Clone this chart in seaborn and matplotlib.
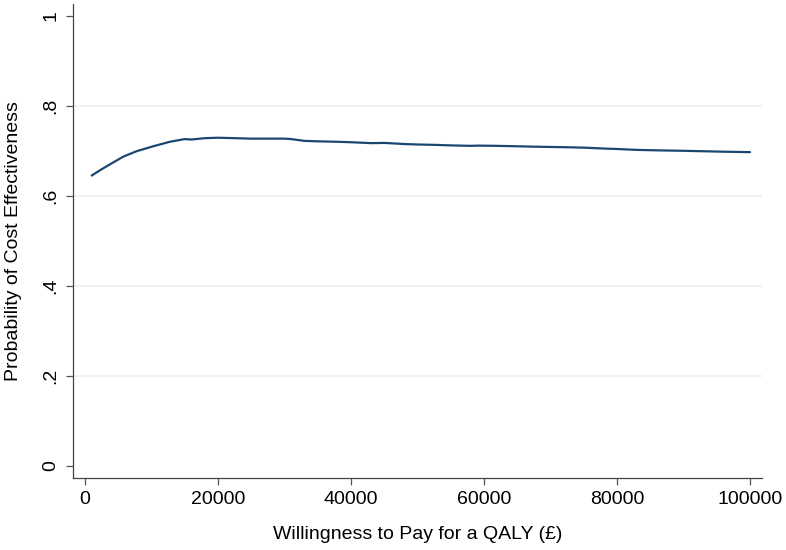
import numpy as np
import pandas as pd
import matplotlib
matplotlib.use('Agg')
import matplotlib.pyplot as plt
import seaborn as sns

# acceptability curve
wtp = [1000, 2500, 4000, 5750, 7750, 10250, 12750, 15000, 16000, 18000,
       20000, 22500, 25000, 27500, 30000, 31000, 33000, 35000, 38000, 40000,
       43000, 45000, 48000, 50000, 53000, 55000, 58000, 59000, 62000, 65000,
       68000, 72000, 75000, 78000, 80000, 83000, 86000, 88000, 90000, 93000,
       96000, 100000]
prob = [0.645, 0.659, 0.672, 0.687, 0.699, 0.710, 0.720, 0.726, 0.725, 0.728,
        0.729, 0.728, 0.727, 0.727, 0.727, 0.726, 0.722, 0.721, 0.720, 0.719,
        0.717, 0.7175, 0.715, 0.714, 0.713, 0.712, 0.711, 0.7115, 0.711, 0.710,
        0.709, 0.708, 0.707, 0.705, 0.704, 0.702, 0.701, 0.7005, 0.700, 0.699,
        0.698, 0.697]

x_ticks = [0, 20000, 40000, 60000, 80000, 100000]
y_ticks = [0, 0.2, 0.4, 0.6, 0.8, 1.0]
y_tick_labels = ['0', '.2', '.4', '.6', '.8', '1']

sns.set_style('white')
plt.rcParams['font.family'] = ['Liberation Sans', 'DejaVu Sans']

df = pd.DataFrame({'wtp': wtp, 'prob': prob})

fig = plt.figure(figsize=(7.86, 5.50), dpi=100, facecolor='white')
ax = fig.add_axes([72.7 / 786, 1 - 477.7 / 550, (762 - 72.7) / 786, (477.7 - 4) / 550])

# light horizontal grid, only inside the range
for y in y_ticks[1:-1]:
    ax.axhline(y, color='#eaf2f3', lw=1.3, zorder=0)

sns.lineplot(data=df, x='wtp', y='prob', ax=ax, color='#1a476f', lw=1.6)

ax.set_xlim(-1850, 101800)
ax.set_ylim(-0.026, 1.026)
ax.set_xticks(x_ticks)
ax.set_xticklabels([str(v) for v in x_ticks])
ax.set_yticks(y_ticks)
ax.set_yticklabels(y_tick_labels, rotation=90, va='center')

ax.tick_params(bottom=True, left=True, direction='out', length=5, width=0.9,
               color='#555555', labelsize=14, labelcolor='black', pad=4.5)
ax.spines['top'].set_visible(False)
ax.spines['right'].set_visible(False)
for s in ['left', 'bottom']:
    ax.spines[s].set_color('#444444')
    ax.spines[s].set_linewidth(0.9)

ax.set_xlabel('Willingness to Pay for a QALY (£)', fontsize=14, color='black')
ax.set_ylabel('Probability of Cost Effectiveness', fontsize=14, color='black')
ax.xaxis.set_label_coords(0.5, -0.102)
ax.yaxis.set_label_coords(-0.0736, 0.5)

plt.savefig('out.png', dpi=100, facecolor='white')
plt.close()
